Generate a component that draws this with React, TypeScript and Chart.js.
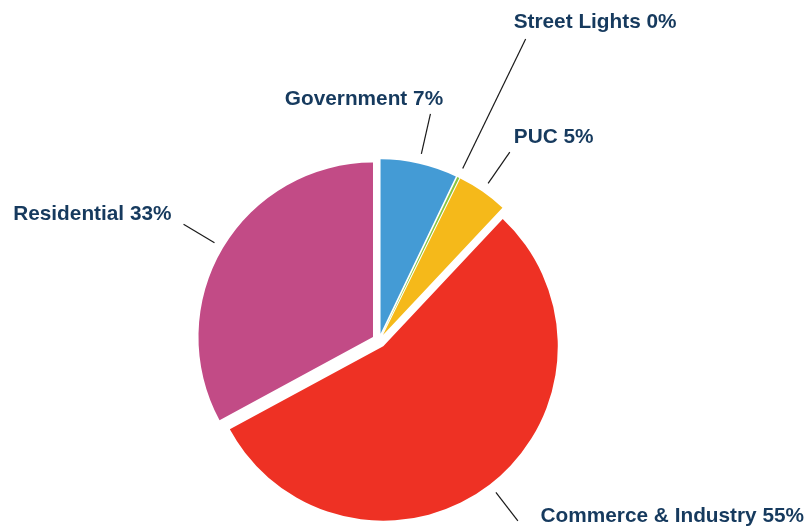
import { useEffect, useRef } from 'react';
import { Chart, registerables } from 'chart.js';

Chart.register(...registerables);

// ---- data ----
const categories = ['Government', 'Street Lights', 'PUC', 'Commerce & Industry', 'Residential'];
const shares = [7.1, 0.2, 4.7, 55.1, 32.9];
const sliceColors = ['#449bd5', '#8cc63e', '#f5b91a', '#ee3124', '#c24b86'];

// ---- label / leader styling ----
const SLICE_GAP = 7;
const LEAD_START = 10;
const leadLength = [51, 154, 48, 46, 46];
const labelAlign: CanvasTextAlign[] = ['right', 'left', 'left', 'left', 'right'];
const labelDx = [12.7, -12, 4, 22.7, -12];
const labelDy = [-9.3, -10.5, -9.4, 1.6, -4.3];
const LABEL_FONT = 'bold 20.8px "Liberation Sans", Arial, sans-serif';
const LABEL_COLOR = '#163a5e';
const LEAD_COLOR = '#1a1a1a';

const explodePlugin = {
  id: 'explode',
  beforeDatasetDraw(chart: any, args: any) {
    const ctx = chart.ctx;
    args.meta.data.forEach((arc: any) => {
      const mid = (arc.startAngle + arc.endAngle) / 2;
      ctx.save();
      ctx.translate(Math.cos(mid) * SLICE_GAP, Math.sin(mid) * SLICE_GAP);
      arc.draw(ctx);
      ctx.restore();
    });
    return false;
  },
};

const labelPlugin = {
  id: 'outsideLabels',
  afterDatasetsDraw(chart: any) {
    const ctx = chart.ctx;
    const meta = chart.getDatasetMeta(0);
    const total = shares.reduce((a, b) => a + b, 0);
    meta.data.forEach((arc: any, i: number) => {
      const mid = (arc.startAngle + arc.endAngle) / 2;
      const cx = Math.cos(mid);
      const cy = Math.sin(mid);
      const r1 = SLICE_GAP + arc.outerRadius + LEAD_START;
      const r2 = SLICE_GAP + arc.outerRadius + leadLength[i];
      const x1 = arc.x + cx * r1;
      const y1 = arc.y + cy * r1;
      const x2 = arc.x + cx * r2;
      const y2 = arc.y + cy * r2;
      ctx.save();
      ctx.strokeStyle = LEAD_COLOR;
      ctx.lineWidth = 1.2;
      ctx.beginPath();
      ctx.moveTo(x1, y1);
      ctx.lineTo(x2, y2);
      ctx.stroke();
      ctx.font = LABEL_FONT;
      ctx.fillStyle = LABEL_COLOR;
      ctx.textAlign = labelAlign[i];
      ctx.textBaseline = 'alphabetic';
      const pct = Math.round((shares[i] / total) * 100);
      ctx.fillText(`${categories[i]} ${pct}%`, x2 + labelDx[i], y2 + labelDy[i]);
      ctx.restore();
    });
  },
};

export default function App() {
  const canvasRef = useRef<HTMLCanvasElement | null>(null);

  useEffect(() => {
    if (!canvasRef.current) return;
    const chart = new Chart(canvasRef.current, {
      type: 'pie',
      data: {
        labels: categories,
        datasets: [
          {
            data: shares,
            backgroundColor: sliceColors,
            borderWidth: 0,
          },
        ],
      },
      options: {
        animation: false,
        responsive: false,
        events: [],
        radius: 174.5,
        layout: { padding: { left: 200, right: 248, top: 160, bottom: 6.6 } },
        plugins: {
          legend: { display: false },
          tooltip: { enabled: false },
        },
      } as any,
      plugins: [explodePlugin, labelPlugin],
    });
    return () => chart.destroy();
  }, []);

  return (
    <div style={{ position: 'fixed', left: 0, top: 0, width: 806, height: 528, background: '#fff' }}>
      <canvas ref={canvasRef} width={806} height={528} />
    </div>
  );
}
